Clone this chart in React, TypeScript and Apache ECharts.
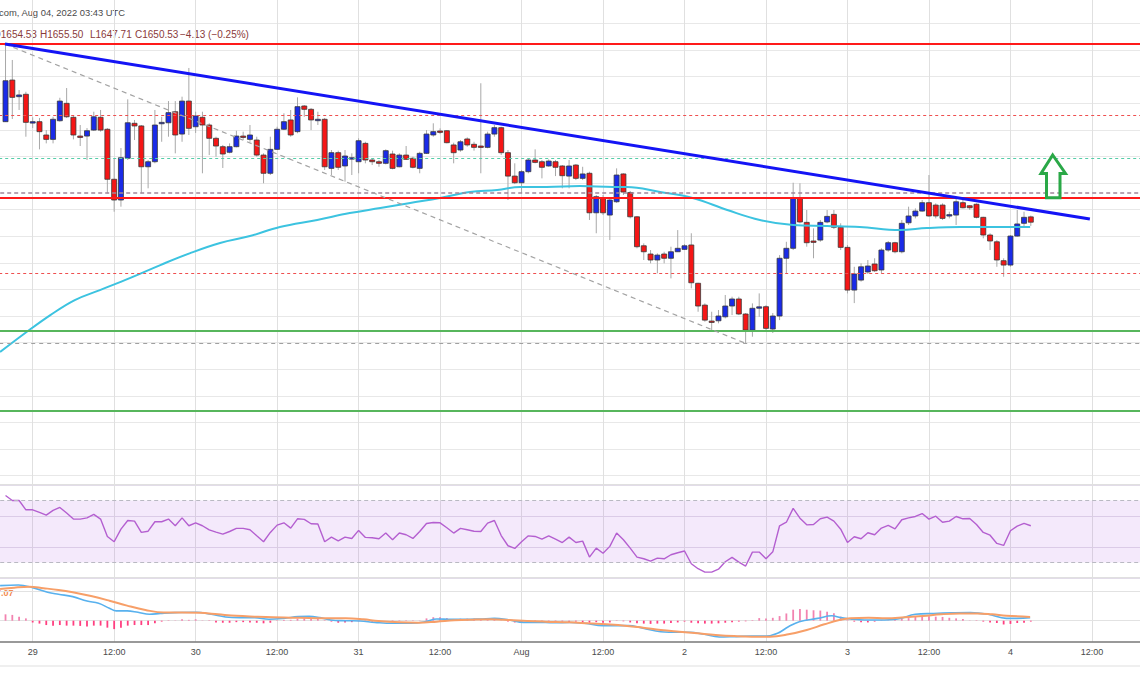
import React, { useEffect, useRef } from "react";
import * as echarts from "echarts";

// Hourly ETH/USD candles from Jul 28 20:00 UTC to Aug 4 03:00 UTC.
// x unit = hours since Jul 29 00:00 UTC.
const FIRST_HOUR = -4;

const opens = [
  1726.1, 1757.4, 1744.9, 1746.7,
  1725.6, 1726.1, 1716.1, 1712.8, 1726.8, 1739.9, 1729.4, 1715.3, 1715.3, 1719.8,
  1729.4, 1720.4, 1682.8, 1667.2, 1698.6, 1724.9, 1722.9, 1692.2, 1696.0, 1725.3,
  1725.3, 1733.6, 1716.8, 1741.6, 1722.3, 1729.4, 1723.6, 1713.6, 1707.3, 1703.1,
  1707.3, 1715.3, 1712.8, 1712.3, 1701.0, 1687.3, 1705.3, 1720.4, 1727.4, 1718.6,
  1737.9, 1735.4, 1727.4, 1727.9, 1691.0, 1702.8, 1692.8, 1698.6, 1696.0, 1709.8,
  1697.3, 1696.0, 1694.8, 1701.8, 1692.2, 1701.0, 1698.6, 1691.0, 1702.3, 1716.1,
  1719.1, 1719.3, 1708.6, 1704.8, 1713.1, 1709.1, 1707.8, 1706.8, 1716.8, 1721.6,
  1702.8, 1685.2, 1680.2, 1688.5, 1697.3, 1696.0, 1692.8, 1696.0, 1692.8, 1685.2,
  1693.5, 1683.5, 1687.3, 1657.6, 1668.5, 1655.9, 1665.9, 1686.8, 1672.8, 1654.6,
  1632.8, 1626.6, 1622.1, 1626.6, 1623.4, 1628.3, 1630.1, 1633.4, 1604.6, 1588.2,
  1576.2, 1576.4, 1579.4, 1587.5, 1592.8, 1581.5, 1569.4, 1586.1, 1587.0, 1570.2,
  1580.0, 1623.4, 1630.9, 1668.5, 1650.4, 1636.4, 1637.1, 1650.7, 1656.4, 1646.7,
  1631.6, 1599.5, 1607.0, 1613.1, 1619.1, 1614.6, 1629.6, 1635.1, 1628.3, 1650.1,
  1655.2, 1658.9, 1665.2, 1663.4, 1663.4, 1655.7, 1655.9, 1665.2, 1662.9, 1664.0,
  1654.2, 1640.9, 1635.8, 1621.6, 1618.3, 1640.1, 1649.7, 1654.53,
];
const closes = [
  1756.9, 1744.4, 1746.2, 1725.6,
  1726.1, 1718.6, 1712.8, 1727.9, 1741.6, 1729.8, 1716.1, 1714.8, 1719.3, 1729.8,
  1719.8, 1682.8, 1667.2, 1699.0, 1725.3, 1722.9, 1692.2, 1696.0, 1723.6, 1725.6,
  1732.9, 1716.1, 1741.6, 1721.1, 1730.4, 1723.6, 1713.6, 1707.8, 1701.8, 1707.3,
  1715.3, 1714.8, 1716.1, 1701.0, 1687.3, 1705.3, 1720.4, 1726.1, 1716.1, 1737.4,
  1735.4, 1727.4, 1727.9, 1692.2, 1702.8, 1691.8, 1700.3, 1699.0, 1711.8, 1697.3,
  1696.0, 1694.8, 1704.3, 1691.0, 1701.0, 1697.8, 1691.8, 1702.3, 1716.8, 1718.6,
  1718.3, 1710.3, 1702.8, 1711.0, 1708.6, 1706.8, 1706.8, 1716.8, 1721.6, 1702.8,
  1685.2, 1680.2, 1688.5, 1697.3, 1695.5, 1691.8, 1696.5, 1691.8, 1685.5, 1692.8,
  1683.5, 1686.8, 1657.6, 1669.7, 1657.6, 1667.2, 1686.0, 1673.2, 1654.6, 1632.1,
  1628.3, 1622.1, 1625.8, 1623.4, 1628.3, 1630.9, 1632.8, 1605.0, 1587.5, 1576.9,
  1575.8, 1580.0, 1587.5, 1592.8, 1581.5, 1569.4, 1585.8, 1586.9, 1570.7, 1580.0,
  1623.4, 1630.9, 1668.5, 1650.7, 1635.1, 1636.0, 1650.4, 1654.9, 1646.7, 1631.6,
  1599.5, 1611.6, 1617.0, 1617.6, 1614.0, 1629.6, 1635.1, 1628.3, 1649.7, 1655.2,
  1658.9, 1665.2, 1655.2, 1655.2, 1653.4, 1656.2, 1665.9, 1661.4, 1661.4, 1654.2,
  1640.9, 1636.4, 1622.1, 1618.3, 1640.1, 1649.2, 1654.2, 1650.53,
];
const lows = [
  1725.9, 1728.1, 1734.9, 1714.8,
  1721.3, 1705.3, 1709.8, 1709.8, 1726.1, 1728.9, 1712.8, 1707.8, 1697.3, 1719.1,
  1718.6, 1672.2, 1658.4, 1662.2, 1697.3, 1712.3, 1672.2, 1676.0, 1694.8, 1711.0,
  1714.8, 1702.3, 1711.0, 1716.1, 1717.6, 1687.3, 1701.0, 1699.8, 1691.3, 1702.3,
  1706.8, 1712.3, 1711.0, 1699.8, 1679.8, 1686.0, 1704.8, 1719.8, 1714.8, 1717.4,
  1729.8, 1719.8, 1723.6, 1689.8, 1686.0, 1689.8, 1681.0, 1686.0, 1687.3, 1694.8,
  1693.5, 1692.2, 1694.0, 1690.3, 1691.8, 1697.3, 1691.0, 1687.3, 1701.8, 1714.8,
  1716.8, 1709.8, 1694.8, 1703.5, 1707.3, 1704.3, 1687.3, 1706.1, 1714.8, 1701.0,
  1667.2, 1679.2, 1672.2, 1687.3, 1694.8, 1683.5, 1692.2, 1685.2, 1676.0, 1676.0,
  1682.2, 1682.2, 1652.2, 1642.2, 1655.9, 1637.1, 1665.0, 1671.0, 1653.4, 1630.9,
  1622.1, 1619.6, 1612.1, 1619.6, 1608.3, 1628.1, 1629.6, 1600.8, 1583.2, 1575.7,
  1569.4, 1574.5, 1578.2, 1580.7, 1580.7, 1559.7, 1564.4, 1579.4, 1569.4, 1567.2,
  1576.9, 1612.1, 1629.6, 1649.7, 1632.1, 1623.4, 1635.8, 1649.7, 1645.4, 1629.6,
  1597.0, 1589.7, 1605.8, 1611.6, 1613.1, 1612.1, 1628.3, 1627.1, 1627.1, 1648.4,
  1653.4, 1658.4, 1654.6, 1653.4, 1652.2, 1653.4, 1648.4, 1660.9, 1659.7, 1653.4,
  1638.4, 1629.6, 1617.0, 1609.5, 1617.0, 1639.6, 1646.9, 1647.71,
];
const highs = [
  1784.5, 1772.5, 1749.9, 1748.6,
  1729.4, 1728.9, 1719.8, 1729.8, 1744.1, 1751.4, 1730.4, 1723.6, 1721.3, 1733.6,
  1734.9, 1721.3, 1698.6, 1706.3, 1742.9, 1727.4, 1723.6, 1697.3, 1734.9, 1729.8,
  1741.6, 1741.6, 1744.9, 1766.5, 1733.6, 1733.6, 1724.9, 1714.8, 1708.6, 1709.8,
  1719.3, 1718.6, 1723.6, 1714.8, 1702.3, 1714.8, 1722.3, 1732.4, 1734.9, 1744.4,
  1738.6, 1736.4, 1733.6, 1728.9, 1704.8, 1704.3, 1704.8, 1702.3, 1713.6, 1711.0,
  1698.6, 1697.3, 1705.3, 1704.3, 1702.3, 1707.8, 1699.8, 1703.5, 1719.8, 1724.9,
  1721.1, 1719.8, 1710.3, 1712.3, 1714.3, 1711.0, 1755.0, 1718.6, 1723.6, 1722.3,
  1704.8, 1694.8, 1689.8, 1698.6, 1705.3, 1697.3, 1697.8, 1697.3, 1693.5, 1697.3,
  1694.3, 1692.2, 1688.5, 1671.0, 1671.0, 1668.5, 1691.0, 1687.3, 1674.0, 1655.2,
  1634.6, 1629.6, 1627.1, 1628.3, 1632.1, 1644.6, 1634.1, 1642.2, 1605.0, 1589.5,
  1583.2, 1584.5, 1595.8, 1594.5, 1594.5, 1582.2, 1589.5, 1597.0, 1588.2, 1582.2,
  1625.8, 1635.8, 1680.2, 1679.8, 1659.7, 1645.9, 1652.2, 1659.7, 1659.7, 1649.7,
  1633.4, 1617.0, 1619.6, 1622.1, 1623.4, 1630.9, 1636.4, 1635.8, 1652.2, 1662.2,
  1660.9, 1667.2, 1686.0, 1664.7, 1664.7, 1658.4, 1668.5, 1667.7, 1663.4, 1664.7,
  1654.6, 1642.2, 1637.1, 1623.4, 1640.9, 1659.7, 1658.4, 1655.5,
];

// Moving average (cyan), read as [hour, price]
const movingAverage = [
  [-4.8, 1552.9], [-1.1, 1567.2], [2.6, 1580.7], [6.2, 1592.0], [9.9, 1599.5],
  [14.3, 1608.5], [18.8, 1618.3], [23.2, 1627.3], [27.6, 1634.9], [32.0, 1640.1],
  [36.4, 1646.9], [41.9, 1652.2], [46.7, 1657.4], [51.2, 1661.2], [55.6, 1665.0],
  [60.0, 1668.7], [64.4, 1673.2], [68.4, 1674.7], [71.8, 1677.0], [75.7, 1677.0],
  [80.6, 1677.7], [85.5, 1677.0], [87.5, 1677.0], [92.4, 1673.2], [97.2, 1668.7],
  [102.3, 1659.7], [107.1, 1652.2], [112.0, 1648.4], [117.0, 1647.7], [121.8, 1646.9],
  [127.7, 1644.6], [131.7, 1646.1], [136.6, 1646.9], [141.4, 1646.9], [146.9, 1646.9],
];

// Drawn trend lines [hour, price]
const bearishTrendLine = [[-4.08, 1784.5], [155.7, 1652.9]];
const dashedTrendLine = [[-4.08, 1784.5], [104.9, 1559.7]];

// Horizontal levels (price)
const redSolidLevels = [1784.5, 1668.7];
const redDashedLevels = [1731.1, 1612.3];
const tealDashedLevels = [1698.8];
const mauveDashedLevels = [1672.5];
const greenSolidLevels = [1569.2, 1508.5];
const greyDashedLevels = [1559.2];

// RSI (one per candle)
const rsi = [
  73.2, 70.0, 70.0, 64.0,
  64.0, 62.3, 60.6, 63.6, 65.5, 61.9, 58.0, 58.0, 58.8, 61.0,
  58.0, 46.8, 43.4, 51.5, 57.1, 56.7, 49.4, 50.2, 56.3, 56.3,
  58.0, 53.7, 58.8, 53.7, 55.6, 53.7, 51.1, 49.6, 48.3, 50.0,
  52.0, 52.0, 51.1, 47.2, 43.4, 49.4, 54.1, 55.6, 52.2, 58.2,
  57.8, 55.0, 54.8, 43.4, 46.4, 44.0, 46.4, 45.5, 50.7, 46.2,
  46.0, 45.3, 49.0, 44.7, 49.0, 47.9, 45.5, 50.0, 55.2, 55.8,
  55.6, 52.4, 49.0, 52.0, 51.1, 50.2, 50.0, 55.4, 57.1, 47.4,
  40.8, 39.1, 43.4, 47.2, 46.8, 45.1, 47.2, 45.1, 42.9, 46.4,
  42.9, 43.8, 33.5, 39.3, 36.0, 40.4, 49.0, 44.7, 39.3, 33.5,
  32.4, 30.9, 32.8, 32.4, 35.0, 36.3, 37.4, 29.2, 26.0, 23.8,
  23.8, 25.7, 30.5, 33.3, 30.2, 27.7, 36.7, 36.7, 32.4, 36.9,
  53.7, 56.0, 64.9, 58.6, 54.3, 54.5, 58.2, 59.3, 56.7, 51.5,
  42.9, 46.6, 45.3, 49.2, 47.9, 52.2, 53.9, 51.7, 57.6, 58.8,
  59.7, 61.6, 58.0, 59.9, 56.0, 56.7, 59.7, 58.2, 58.4, 54.5,
  49.4, 47.6, 42.3, 41.0, 50.5, 53.5, 55.2, 53.7,
];
const rsiBand = [70, 30];

// MACD histogram (one per candle)
const histogram = [
  2.2, 2.0, 1.4, 0.8,
  -0.6, -1.0, -1.5, -1.7, -1.5, -1.7, -1.7, -1.8, -2.0, -1.7,
  -1.7, -2.4, -2.9, -2.4, -1.7, -1.5, -1.5, -1.5, -0.9, -0.3,
  -0.1, 0.1, 0.5, 0.3, 0.5, 0.1, -0.1, -0.6, -0.7, -0.7,
  -0.5, -0.5, -0.6, -0.7, -0.9, -0.7, -0.1, 0.2, 0.3, 0.7,
  0.8, 0.7, 0.7, -0.1, -0.3, -0.7, -0.6, -0.5, -0.2, -0.2,
  -0.3, -0.2, 0.0, -0.2, -0.1, -0.1, -0.1, 0.1, 0.8, 1.2,
  1.2, 0.9, 0.6, 0.7, 0.7, 0.7, 0.6, 0.7, 0.7, 0.1,
  -0.3, -0.6, -0.7, -0.7, -0.6, -0.5, -0.3, -0.3, -0.3, -0.5,
  -0.3, -0.5, -0.7, -0.5, -0.7, -0.6, -0.1, -0.2, -0.6, -0.9,
  -1.0, -1.1, -1.0, -1.0, -0.8, -0.6, -0.3, -0.7, -0.9, -1.0,
  -1.0, -0.9, -0.7, -0.5, -0.3, -0.2, 0.2, 0.9, 0.8, 1.0,
  1.6, 2.5, 3.8, 4.0, 3.8, 3.6, 3.5, 3.1, 2.6, 1.4,
  -0.1, -0.3, -0.5, -0.6, -0.3, -0.1, 0.1, 0.3, 0.7, 0.9,
  1.3, 1.5, 1.5, 1.4, 1.3, 1.0, 0.8, 0.6, 0.1, -0.1,
  -0.3, -0.6, -0.8, -1.3, -1.1, -0.8, -0.7, -0.3,
];

// MACD line (blue) and signal line (orange), read as [hour, value]
const macdLine = [
  [-4.8, 12.1], [-2.1, 12.3], [0, 11.4], [2.2, 9.8], [3.8, 9.1], [5.9, 8.3], [8, 6.8],
  [9.7, 6.0], [11.3, 4.3], [12.3, 3.4], [13.9, 3.4], [15.5, 2.9], [17.2, 2.2], [18.8, 2.5],
  [20.9, 2.8], [24.1, 2.9], [26.3, 2.2], [28.4, 1.3], [30.5, 1.05], [32.7, 1.05], [34.8, 0.5],
  [37, 0.8], [39.1, 1.4], [40.7, 1.5], [42.3, 1.05], [43.9, 0.24], [46.1, 0.0], [48.2, -0.1],
  [50.4, -0.56], [53, -0.9], [55.7, -0.9], [57.9, -0.33], [59.5, 0.6], [61.6, 0.47], [63.7, 0.47],
  [65.9, 0.6], [68, 0.8], [70.2, 0.24], [72.3, -0.56], [74.5, -0.56], [76.6, -0.7], [79.1, -0.6],
  [81.3, -0.9], [84, -1.7], [86.1, -1.7], [87.7, -1.7], [89.9, -2.6], [92.5, -3.8], [95.2, -4.0],
  [96.8, -4.0], [98.9, -4.7], [101.1, -5.6], [103.2, -5.5], [105.9, -5.3], [108.1, -5.3], [109.7, -4.35],
  [111.3, -2.1], [112.9, -0.33], [115.6, 0.8], [117.7, 1.7], [119, 1.05], [120.4, 0.6], [122.5, 0.24],
  [124.7, 0.24], [127.4, 0.6], [130, 2.2], [132.7, 2.5], [135.4, 2.7], [138.1, 2.8], [140.7, 2.2],
  [143.4, 0.8], [145, 0.8], [146.9, 1.05],
];
const signalLine = [
  [-4.8, 10.9], [-2.7, 11.4], [-0.5, 11.7], [1.6, 11.2], [3.8, 10.6], [5.9, 9.8], [8.6, 8.5],
  [11.3, 6.9], [13.9, 5.2], [16.6, 3.7], [19.3, 2.8], [22, 2.8], [24.6, 2.7], [27.3, 2.2],
  [30, 1.7], [32.7, 1.4], [35.4, 1.16], [38, 1.05], [40.7, 0.93], [43.4, 0.82], [46.1, 0.82],
  [48.7, 0.47], [50.9, -0.1], [54.1, -0.56], [56.8, -0.68], [59.5, -0.33], [62.1, 0.13], [64.8, 0.36],
  [67.5, 0.47], [70.2, 0.24], [72.8, -0.1], [75.5, -0.33], [79.1, -0.56], [81.8, -0.9], [84.5, -1.25],
  [87.2, -1.7], [89.9, -2.4], [92.5, -3.2], [95.2, -3.8], [97.9, -4.35], [100.6, -4.9], [103.3, -5.3],
  [105.9, -5.5], [108.6, -5.5], [111.3, -4.7], [114, -3.2], [116.6, -1.25], [118.8, 0.24], [120.4, 0.82],
  [123.1, 1.05], [125.7, 0.82], [128.4, 1.16], [131.1, 1.6], [133.8, 2.2], [136.5, 2.5], [139.1, 2.5],
  [141.3, 2.2], [143.4, 1.74], [146.9, 1.3],
];
const macdGridValues = [0, 10];
const macdValueLabel = "7.07";

// Time axis tick labels (every 12 h; day labels at midnight)
const dayLabels = ["29", "30", "31", "Aug", "2", "3", "4", "5"];
const halfDayLabel = "12:00";

const headerText = "com, Aug 04, 2022 03:43 UTC";
const ohlcTexts = ["O1654.53", "H1655.50", "L1647.71", "C1650.53", "\u22124.13 (\u22120.25%)"];

const UP = "#1a2be8";
const DOWN = "#f51616";
const FONT = "Liberation Sans, Arial, sans-serif";

function buildOption() {
  const hours = opens.map((_, i) => FIRST_HOUR + i);
  const candleData = opens.map((o, i) => [hours[i], o, closes[i], lows[i], highs[i]]);
  const rsiData = rsi.map((v, i) => [hours[i], v]);
  const histData = histogram.map((v, i) => [hours[i], v]);

  const gx = { left: -48.8, width: 1222.2, outerBoundsMode: "none" as any };
  const hiddenX = (gridIndex: number) => ({
    gridIndex, type: "value", min: -12, max: 168, show: false,
  });

  const levelLine = (v: number, color: string, width: number, type: any) => ({
    yAxis: v, lineStyle: { color, width, type },
  });

  const levels = [
    ...tealDashedLevels.map((v) => levelLine(v, "#55cda8", 1, [3, 3])),
    ...redDashedLevels.map((v) => levelLine(v, "#ef4f4f", 1, [3, 3])),
    ...greyDashedLevels.map((v) => levelLine(v, "#a0a0a0", 1.2, [4, 4])),
    ...mauveDashedLevels.map((v) => levelLine(v, "#a0879a", 1.6, [4, 3])),
    ...greenSolidLevels.map((v) => levelLine(v, "#57b65c", 2, "solid")),
    ...redSolidLevels.map((v) => levelLine(v, "#ff1a1a", 2, "solid")),
  ];

  return {
    animation: false,
    backgroundColor: "#ffffff",
    grid: [
      { ...gx, top: -3.2, height: 478.8 },
      { ...gx, top: 485, height: 93, show: true, borderColor: "#e0e0e0", borderWidth: 2, backgroundColor: "transparent" },
      { ...gx, top: 579, height: 62.7 },
      { ...gx, top: -3.2, height: 644.9 },
    ],
    xAxis: [
      hiddenX(0),
      hiddenX(1),
      hiddenX(2),
      {
        gridIndex: 3, type: "value", min: -12, max: 168, interval: 12,
        axisLine: { show: true, onZero: false, lineStyle: { color: "#777777", width: 1.5 } },
        axisTick: { show: false },
        splitLine: { show: true, lineStyle: { color: "#e0e0e0", width: 1 } },
        axisLabel: {
          show: true, color: "#4a4a4a", fontSize: 9, fontFamily: FONT, margin: 6,
          showMinLabel: false, showMaxLabel: false,
          formatter: (v: number) => (v % 24 === 0 ? dayLabels[v / 24] ?? "" : halfDayLabel),
        },
      },
    ],
    yAxis: [
      {
        gridIndex: 0, type: "value", min: 1460, max: 1820, interval: 20,
        axisLabel: { show: false }, axisLine: { show: false }, axisTick: { show: false },
        splitLine: { show: true, lineStyle: { color: "#e8e8e8", width: 1 } },
      },
      {
        gridIndex: 1, type: "value", min: 20, max: 80, interval: 20,
        axisLabel: { show: false }, axisLine: { show: false }, axisTick: { show: false },
        splitLine: { show: true, lineStyle: { color: "#e2dce8", width: 1 } },
      },
      {
        gridIndex: 2, type: "value", min: -7.24, max: 14.38,
        axisLabel: { show: false }, axisLine: { show: false }, axisTick: { show: false },
        splitLine: { show: false },
      },
      { gridIndex: 3, type: "value", min: 0, max: 1, show: false, splitLine: { show: false } },
    ],
    series: [
      {
        type: "custom",
        name: "candles",
        xAxisIndex: 0, yAxisIndex: 0, z: 3, silent: true,
        data: candleData,
        encode: { x: 0, y: [1, 2, 3, 4] },
        renderItem: (_params: any, api: any) => {
          const t = api.value(0);
          const o = api.value(1), c = api.value(2), l = api.value(3), h = api.value(4);
          const pO = api.coord([t, o]);
          const pC = api.coord([t, c]);
          const pL = api.coord([t, l]);
          const pH = api.coord([t, h]);
          const x = pO[0];
          const top = Math.min(pO[1], pC[1]);
          const bot = Math.max(pO[1], pC[1]);
          const bw = 5;
          return {
            type: "group",
            children: [
              { type: "line", shape: { x1: x, y1: pH[1], x2: x, y2: pL[1] }, style: { stroke: "#a8a8a8", lineWidth: 1 } },
              {
                type: "rect",
                shape: { x: x - bw / 2, y: top, width: bw, height: Math.max(bot - top, 1.4) },
                style: { fill: c >= o ? UP : DOWN, stroke: "#383838", lineWidth: 0.8 },
              },
            ],
          };
        },
      },
      {
        type: "line", name: "ma", xAxisIndex: 0, yAxisIndex: 0, z: 4, silent: true,
        data: movingAverage, smooth: 0.4, showSymbol: false,
        lineStyle: { color: "#3cc3e0", width: 2 },
      },
      {
        type: "line", name: "dashed trend", xAxisIndex: 0, yAxisIndex: 0, z: 5, silent: true,
        data: dashedTrendLine, showSymbol: false,
        lineStyle: { color: "#a3a3a3", width: 1.2, type: [5, 4] },
      },
      {
        type: "line", name: "trend", xAxisIndex: 0, yAxisIndex: 0, z: 6, silent: true,
        data: bearishTrendLine, showSymbol: false,
        lineStyle: { color: "#1414f5", width: 3 },
        markLine: { silent: true, symbol: ["none", "none"], label: { show: false }, data: levels, z: 5 },
      },
      {
        type: "line", name: "rsi", xAxisIndex: 1, yAxisIndex: 1, z: 4, silent: true,
        data: rsiData, showSymbol: false,
        lineStyle: { color: "#b45fd0", width: 1.4 },
        markArea: {
          silent: true,
          itemStyle: { color: "rgba(178, 102, 230, 0.14)" },
          data: [[{ yAxis: rsiBand[0] }, { yAxis: rsiBand[1] }]],
        },
        markLine: {
          silent: true, symbol: ["none", "none"], label: { show: false },
          lineStyle: { color: "#b9b9c2", width: 1, type: [4, 3] },
          data: rsiBand.map((v) => ({ yAxis: v })),
        },
      },
      {
        type: "bar", name: "hist", xAxisIndex: 2, yAxisIndex: 2, z: 3, silent: true,
        data: histData, barWidth: 1.8,
        itemStyle: {
          color: (p: any) => (p.value[1] >= 0 ? "#f283b0" : "#ff3f80"),
        },
      },
      {
        type: "line", name: "macd", xAxisIndex: 2, yAxisIndex: 2, z: 4, silent: true,
        data: macdLine, smooth: 0.4, showSymbol: false,
        lineStyle: { color: "#58b1ee", width: 1.6 },
        markLine: {
          silent: true, symbol: ["none", "none"], label: { show: false },
          lineStyle: { color: "#e2e2e2", width: 1, type: "solid" },
          data: macdGridValues.map((v) => ({ yAxis: v })),
          z: 1,
        },
      },
      {
        type: "line", name: "signal", xAxisIndex: 2, yAxisIndex: 2, z: 4, silent: true,
        data: signalLine, smooth: 0.4, showSymbol: false,
        lineStyle: { color: "#f79f68", width: 2 },
      },
    ],
    graphic: [
      {
        type: "text", x: -1, y: 12, silent: true,
        style: { text: headerText, fill: "#4a4a4a", fontSize: 9.4, fontFamily: FONT, verticalAlign: "middle" },
      },
      ...[-7, 40, 90, 135, 180].map((x, i) => ({
        type: "text", x, y: 34, silent: true,
        style: { text: ohlcTexts[i], fill: "#8a3a3a", fontSize: 10, fontFamily: FONT, verticalAlign: "middle" },
      })),
      {
        type: "text", x: -4, y: 593, silent: true,
        style: { text: macdValueLabel, fill: "#f28a50", fontSize: 9, fontWeight: "bold", fontFamily: FONT, verticalAlign: "middle" },
      },
      {
        type: "polygon", silent: true, z: 10,
        shape: {
          points: [
            [1052.7, 155], [1065.5, 173.5], [1060, 173.5], [1060, 197.8],
            [1046.5, 197.8], [1046.5, 173.5], [1041, 173.5],
          ],
        },
        style: { fill: "none", stroke: "#2aa847", lineWidth: 3, lineJoin: "miter" },
      },
      {
        type: "line", silent: true,
        shape: { x1: 0, y1: 666, x2: 1140, y2: 666 },
        style: { stroke: "#efefef", lineWidth: 2 },
      },
    ],
  };
}

export default function App() {
  const ref = useRef<HTMLDivElement>(null);
  useEffect(() => {
    document.body.style.margin = "0";
    const chart = echarts.init(ref.current!, undefined, { renderer: "svg" });
    chart.setOption(buildOption() as any);
    return () => chart.dispose();
  }, []);
  return <div ref={ref} style={{ width: 1140, height: 694, background: "#ffffff" }} />;
}
